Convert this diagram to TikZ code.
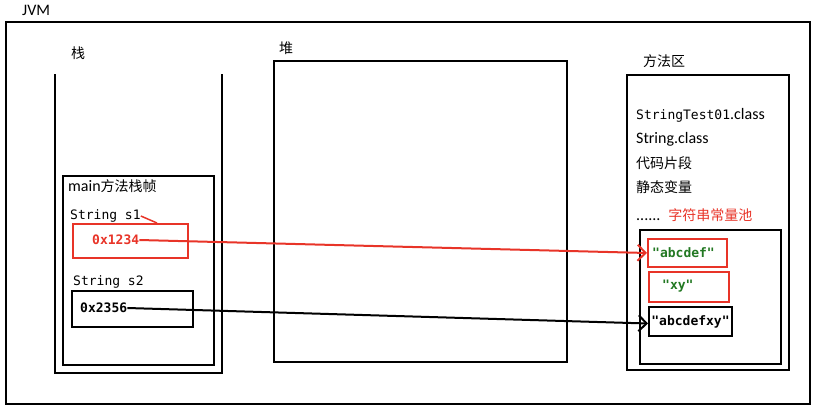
\documentclass[tikz,border=0pt]{standalone}
\usepackage{fontspec}
\setmainfont{Carlito}
\setmonofont{DejaVu Sans Mono}
\newfontfamily\cjkf{Noto Sans CJK SC}
\newcommand{\cjk}{\fontsize{14}{16}\selectfont\cjkf}
\usetikzlibrary{arrows.meta}
\definecolor{myred}{RGB}{232,52,40}
\definecolor{mygreen}{RGB}{34,120,34}
\tikzset{
  box/.style={draw, line width=2pt, inner sep=0pt},
  redbox/.style={draw=myred, line width=2pt, inner sep=0pt},
  lbl/.style={inner sep=0pt, anchor=west, font=\fontsize{16}{18}\selectfont},
  code/.style={inner sep=0pt, anchor=west, font=\fontsize{13}{15}\selectfont\ttfamily},
  link/.style={line width=2pt, -{Straight Barb[length=8pt,width=16pt,line width=2pt]}}
}
\begin{document}
\begin{tikzpicture}[x=1pt,y=-1pt]
\useasboundingbox (0,0) rectangle (817,413);
% JVM
\draw[line width=2pt] (6,22) rectangle (810,404);
\node[lbl] (jvm) at (22,10) {JVM};
% stack
\draw[line width=2pt] (55,74) -- (55,373) -- (222,373) -- (222,74);
\node[lbl] (stk) at (71,53) {\cjk 栈};
\node[box, minimum width=151pt, minimum height=189pt] (frame) at (138.5,270.5) {};
\node[lbl] (frl) at (68,186) {main\cjk 方法栈帧};
\node[code] (s1) at (70,216) {String s1};
\node[redbox, minimum width=115pt, minimum height=34pt] (b1) at (130.5,241) {};
\node[code, text=myred, font=\fontsize{13}{15}\selectfont\ttfamily\bfseries] (t1) at (92,240) {0x1234};
\coordinate (s1e) at (157,223);
\draw[myred, line width=1.5pt] (s1.east) -- (s1e);
\node[code] (s2) at (73,282) {String s2};
\node[box, minimum width=121pt, minimum height=36pt] (b2) at (132.5,309) {};
\node[code, font=\fontsize{13}{15}\selectfont\ttfamily\bfseries] (t2) at (80,308) {0x2356};
% heap
\node[box, minimum width=293pt, minimum height=301pt] (heap) at (420.5,211.5) {};
\node[lbl] (hl) at (279,48) {\cjk 堆};
% method area
\node[box, minimum width=162pt, minimum height=295pt] (ma) at (708,222.5) {};
\node[lbl] (mal) at (643,61) {\cjk 方法区};
\node[lbl] (m1) at (636,115) {{\fontsize{13}{15}\selectfont\ttfamily StringTest01}.class};
\node[lbl] (m2) at (636,139) {String.class};
\node[lbl] (m3) at (636,163) {\cjk 代码片段};
\node[lbl] (m4) at (636,187) {\cjk 静态变量};
\node[lbl] (m5) at (636,215) {......\hspace{8pt}\textcolor{myred}{\cjk 字符串常量池}};
% pool
\node[box, minimum width=141pt, minimum height=134pt] (pool) at (710.5,297) {};
\node[redbox, minimum width=79pt, minimum height=28pt] (p1) at (687.5,253) {};
\node[code, text=mygreen, font=\fontsize{13}{15}\selectfont\ttfamily\bfseries] (p1t) at (652,253) {"abcdef"};
\node[redbox, minimum width=80pt, minimum height=30pt] (p2) at (689,287) {};
\node[code, text=mygreen, font=\fontsize{13}{15}\selectfont\ttfamily\bfseries] (p2t) at (662,286) {"xy"};
\node[box, minimum width=83pt, minimum height=29pt, font=\fontsize{13}{15}\selectfont\ttfamily\bfseries] (p3) at (690.5,321.5) {"abcdefxy"};
% arrows
\draw[link, myred] (t1.east) -- (p1.west);
\draw[link] (t2.east) -- ([yshift=-2pt]p3.west);
\end{tikzpicture}
\end{document}
